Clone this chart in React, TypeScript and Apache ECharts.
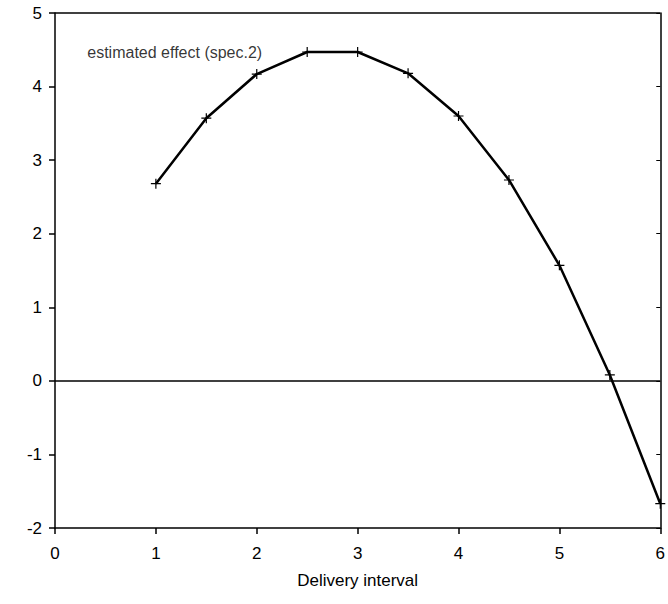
import React, { useEffect, useRef } from "react";
import * as echarts from "echarts";

const xValues = [1, 1.5, 2, 2.5, 3, 3.5, 4, 4.5, 5, 5.5, 6];
const effectValues = [2.68, 3.57, 4.17, 4.47, 4.47, 4.18, 3.6, 2.73, 1.57, 0.08, -1.67];
const seriesLabel = "estimated effect (spec.2)";
const xTitle = "Delivery interval";

const plus = "path://M-0.12,-1H0.12V-0.12H1V0.12H0.12V1H-0.12V0.12H-1V-0.12H-0.12Z";

export default function App() {
  const ref = useRef<HTMLDivElement>(null);
  useEffect(() => {
    const chart = echarts.init(ref.current!, null, { renderer: "svg" });
    const font = "Liberation Sans";
    chart.setOption({
      animation: false,
      backgroundColor: "#fff",
      grid: { left: 55, right: 5, top: 13, bottom: 76 },
      xAxis: {
        type: "value",
        min: 0,
        max: 6,
        interval: 1,
        name: xTitle,
        nameLocation: "middle",
        nameGap: 44,
        nameTextStyle: { color: "#000", fontSize: 17, fontFamily: font },
        axisLine: { show: true, onZero: false, lineStyle: { color: "#000", width: 1.5 } },
        axisTick: { show: true, length: 6, lineStyle: { color: "#000", width: 1.5 } },
        axisLabel: { color: "#000", fontSize: 17, fontFamily: font, margin: 17 },
        splitLine: { show: false },
      },
      yAxis: [
        {
          type: "value",
          min: -2,
          max: 5,
          interval: 1,
          axisLine: { show: true, lineStyle: { color: "#000", width: 1.5 } },
          axisTick: { show: true, length: 6, lineStyle: { color: "#000", width: 1.5 } },
          axisLabel: { color: "#000", fontSize: 17, fontFamily: font, margin: 13 },
          splitLine: { show: false },
        },
        {
          type: "value",
          min: -2,
          max: 5,
          interval: 1,
          position: "right",
          axisLine: { show: true, lineStyle: { color: "#000", width: 1.5 } },
          axisTick: { show: true, inside: true, length: 4, lineStyle: { color: "#000", width: 1 } },
          axisLabel: { show: false },
          splitLine: { show: false },
        },
      ],
      series: [
        {
          type: "line",
          data: xValues.map((x, i) => [x, effectValues[i]]),
          symbol: plus,
          symbolSize: 10,
          showAllSymbol: true,
          lineStyle: { color: "#000", width: 2.5 },
          itemStyle: { color: "#000" },
          markLine: {
            silent: true,
            symbol: "none",
            label: { show: false },
            lineStyle: { color: "#000", width: 1.5, type: "solid" },
            data: [{ yAxis: 0 }],
          },
        },
        {
          type: "line",
          data: [[4.97, 5]],
          symbol: "none",
          lineStyle: { width: 0 },
          markLine: {
            silent: true,
            symbol: "none",
            label: { show: false },
            lineStyle: { color: "#000", width: 1.5, type: "solid" },
            data: [{ yAxis: 5 }],
          },
        },
        {
          type: "scatter",
          data: [[0.32, 4.46]],
          symbolSize: 0,
          label: {
            show: true,
            position: "right",
            distance: 0,
            formatter: seriesLabel,
            color: "#000",
            fontSize: 16,
            fontFamily: font,
          },
        },
      ],
    });
    return () => chart.dispose();
  }, []);
  return (
    <div
      ref={ref}
      style={{ position: "fixed", left: 0, top: 0, width: 668, height: 604 }}
    />
  );
}
